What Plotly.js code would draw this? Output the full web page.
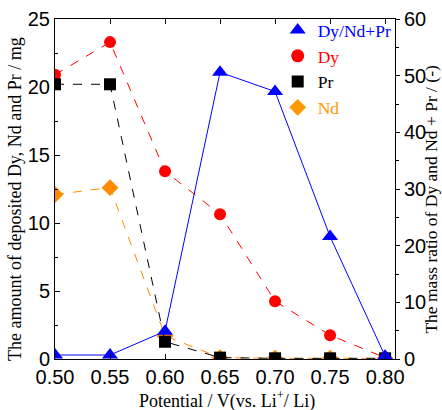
<!DOCTYPE html>
<html><head><meta charset="utf-8">
<script src="https://cdn.plot.ly/plotly-3.0.1.min.js"></script>
<style>html,body{margin:0;padding:0;background:#fff}#chart{width:442px;height:410px}</style>
</head><body><div id="chart"></div>
<script>
const potential = [0.50, 0.55, 0.60, 0.65, 0.70, 0.75, 0.80];
const dy = [20.9, 23.3, 13.8, 10.65, 4.25, 1.75, 0.1];
const pr = [20.2, 20.2, 1.27, 0.1, 0.05, 0.05, 0.05];
const nd = [12.1, 12.6, 1.7, 0.1, 0.05, 0.05, 0.05];
const ratio = [0.7, 0.7, 4.9, 50.6, 47.2, 21.6, 0.5];
const names = ['Dy/Nd+Pr', 'Dy', 'Pr', 'Nd'];
const xTitle = 'Potential / V(vs. Li<sup>+</sup>/ Li)';
const yTitle = 'The amount of deposited Dy, Nd and Pr / mg';
const y2Title = 'The mass ratio of Dy and Nd + Pr / (-)';

const cBlue = '#0000FF', cRed = '#FF0000', cBlack = '#000000', cOrange = '#FF8C00', cOrangeTxt = '#FF9900';
const serif = 'Liberation Serif, Times New Roman, serif';
const sans = 'Liberation Sans, Arial, sans-serif';

const traces = [
  {x: potential, y: nd, type: 'scatter', mode: 'lines+markers', showlegend: false,
   line: {color: cOrange, width: 1, dash: 'dash'}, marker: {symbol: 'diamond', size: 13, color: cOrange}},
  {x: potential, y: dy, type: 'scatter', mode: 'lines+markers', showlegend: false,
   line: {color: cRed, width: 1, dash: 'dash'}, marker: {symbol: 'circle', size: 12, color: cRed}},
  {x: potential, y: pr, type: 'scatter', mode: 'lines+markers', showlegend: false,
   line: {color: cBlack, width: 1, dash: 'dash'}, marker: {symbol: 'square', size: 12, color: cBlack}},
  {x: potential, y: ratio, type: 'scatter', mode: 'lines+markers', showlegend: false, yaxis: 'y2',
   line: {color: cBlue, width: 1}, marker: {symbol: 'triangle-up', size: 14, color: cBlue}},
  {x: [null], y: [null], type: 'scatter', mode: 'markers', name: '<span style="color:' + cBlue + '">' + names[0] + '</span>',
   legendrank: 1, marker: {symbol: 'triangle-up', size: 14, color: cBlue}},
  {x: [null], y: [null], type: 'scatter', mode: 'markers', name: '<span style="color:' + cRed + '">' + names[1] + '</span>',
   legendrank: 2, marker: {symbol: 'circle', size: 13, color: cRed}},
  {x: [null], y: [null], type: 'scatter', mode: 'markers', name: '<span style="color:' + cBlack + '">' + names[2] + '</span>',
   legendrank: 3, marker: {symbol: 'square', size: 12, color: cBlack}},
  {x: [null], y: [null], type: 'scatter', mode: 'markers', name: '<span style="color:' + cOrangeTxt + '">' + names[3] + '</span>',
   legendrank: 4, marker: {symbol: 'diamond', size: 13, color: cOrangeTxt}}
];

const titleFont = {family: serif, size: 18, color: '#000'};
const layout = {
  width: 442, height: 410,
  margin: {l: 55, r: 47, t: 17, b: 51},
  paper_bgcolor: '#fff', plot_bgcolor: '#fff',
  showlegend: true,
  legend: {x: 0.655, y: 1.02, xanchor: 'left', yanchor: 'top', bgcolor: 'rgba(0,0,0,0)',
           font: {family: serif, size: 17.5, color: '#000'}, tracegroupgap: 0, itemwidth: 30},
  xaxis: {
    range: [0.5, 0.809], tickvals: potential, ticktext: potential.map(v => v.toFixed(2)),
    showgrid: false, zeroline: false, showline: true, linecolor: '#000', linewidth: 1,
    mirror: 'ticks', ticks: 'inside', ticklen: 5, tickcolor: '#000',
    tickfont: {family: sans, size: 20, color: '#000'}, automargin: false
  },
  yaxis: {
    range: [0, 25], tickvals: [0, 5, 10, 15, 20, 25],
    showgrid: false, zeroline: false, showline: true, linecolor: '#000', linewidth: 1,
    ticks: 'inside', ticklen: 5, tickcolor: '#000',
    minor: {dtick: 2.5, ticks: 'inside', ticklen: 3, tickcolor: '#000'},
    tickfont: {family: sans, size: 20, color: '#000'}, automargin: false
  },
  yaxis2: {
    overlaying: 'y', side: 'right', range: [0, 60], tickvals: [0, 10, 20, 30, 40, 50, 60],
    showgrid: false, zeroline: false, showline: true, linecolor: '#000', linewidth: 1,
    ticks: 'outside', ticklen: 4, tickcolor: '#000',
    minor: {dtick: 5, ticks: 'outside', ticklen: 3, tickcolor: '#000'},
    tickfont: {family: sans, size: 20, color: '#000'}, automargin: false
  },
  annotations: [
    {text: xTitle, xref: 'paper', yref: 'paper', x: 0.505, y: -0.12, xanchor: 'center', yanchor: 'middle',
     showarrow: false, font: titleFont},
    {text: yTitle, xref: 'paper', yref: 'paper', x: -0.118, y: 0.47, xanchor: 'center', yanchor: 'middle',
     textangle: -90, showarrow: false, font: titleFont},
    {text: y2Title, xref: 'paper', yref: 'paper', x: 1.107, y: 0.47, xanchor: 'center', yanchor: 'middle',
     textangle: -90, showarrow: false, font: {family: serif, size: 17.5, color: '#000'}}
  ]
};

Plotly.newPlot('chart', traces, layout, {displayModeBar: false, staticPlot: true});
</script></body></html>
